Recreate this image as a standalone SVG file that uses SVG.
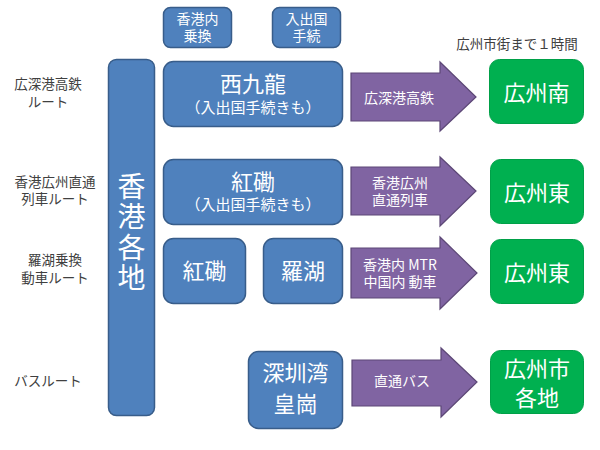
<svg xmlns="http://www.w3.org/2000/svg" width="600" height="450" viewBox="0 0 600 450">
<style>
text{font-family:"Noto Sans CJK JP","Noto Sans",sans-serif;text-anchor:middle;dominant-baseline:central}
.blue{fill:#4F81BD;stroke:#385D8A;stroke-width:1.5}
.green{fill:#00B050;stroke:#00A048;stroke-width:1}
.arrow{fill:#8064A2;stroke:#5C4776;stroke-width:1.2}
.w{fill:#FFFFFF}
.lbl{fill:#404040;font-size:13.5px}
.s14{font-size:14px}
.s15{font-size:15px}
.s22{font-size:22px}
.s28{font-size:28px}
.vert{writing-mode:vertical-rl;letter-spacing:2.5px}
</style>
<rect width="600" height="450" fill="#FFFFFF"/>
<g id="labels">
<text class="lbl" x="48" y="83">広深港高鉄<tspan x="48" dy="18">ルート</tspan></text>
<text class="lbl" x="55" y="181">香港広州直通<tspan x="55" dy="17">列車ルート</tspan></text>
<text class="lbl" x="55" y="259">羅湖乗換<tspan x="55" dy="18">動車ルート</tspan></text>
<text class="lbl" x="48" y="380">バスルート</text>
<text class="lbl" x="517" y="43">広州市街まで１時間</text>
</g>
<g id="n-transfer">
<rect class="blue" x="163.5" y="7.5" width="68" height="40" rx="7"/>
<text class="w s14" x="197.5" y="18">香港内<tspan x="197.5" dy="17">乗換</tspan></text>
</g>
<g id="n-immigration">
<rect class="blue" x="272.5" y="7.5" width="68" height="40" rx="7"/>
<text class="w s14" x="306.5" y="18">入出国<tspan x="306.5" dy="17">手続</tspan></text>
</g>
<g id="n-hongkong">
<rect class="blue" x="108.5" y="59.5" width="46" height="356" rx="8"/>
<text class="w s28 vert" x="131.5" y="233">香港各地</text>
</g>
<g id="n-westkowloon">
<rect class="blue" x="163.5" y="61.5" width="179" height="65" rx="10"/>
<text class="w s22" x="253" y="82">西九龍<tspan class="s15" x="253" dy="24">（入出国手続きも）</tspan></text>
</g>
<g id="n-hunghom1">
<rect class="blue" x="163.5" y="159.5" width="179" height="65" rx="10"/>
<text class="w s22" x="253" y="180">紅磡<tspan class="s15" x="253" dy="23">（入出国手続きも）</tspan></text>
</g>
<g id="n-hunghom2">
<rect class="blue" x="163.5" y="238.5" width="82" height="65" rx="10"/>
<text class="w s22" x="204.5" y="269">紅磡</text>
</g>
<g id="n-lowu">
<rect class="blue" x="263.5" y="238.5" width="79" height="65" rx="10"/>
<text class="w s22" x="303" y="269">羅湖</text>
</g>
<g id="n-shenzhenbay">
<rect class="blue" x="248.5" y="351.5" width="94" height="77" rx="10"/>
<text class="w s22" x="295.5" y="371">深圳湾<tspan x="295.5" dy="31">皇崗</tspan></text>
</g>
<g id="connectors">
<g id="a1">
<polygon class="arrow" points="351,73 440,73 440,62 476,97 440,131 440,121 351,121"/>
<text class="w s14" x="399" y="97">広深港高鉄</text>
</g>
<g id="a2">
<polygon class="arrow" points="351,167 440,167 440,157 476,191 440,226 440,215 351,215"/>
<text class="w s14" x="400" y="182">香港広州<tspan x="400" dy="17">直通列車</tspan></text>
</g>
<g id="a3">
<polygon class="arrow" points="351,248 440,248 440,237 477,273 440,309 440,298 351,298"/>
<text class="w s14" x="400" y="264">香港内 MTR<tspan x="400" dy="17">中国内 動車</tspan></text>
</g>
<g id="a4">
<polygon class="arrow" points="352,360 441,360 441,348 477,382 441,417 441,406 352,406"/>
<text class="w s14" x="402" y="380">直通バス</text>
</g>
</g>
<g id="n-gzsouth">
<rect class="green" x="489.5" y="59.5" width="94" height="64" rx="10"/>
<text class="w s22" x="536.5" y="91">広州南</text>
</g>
<g id="n-gzeast1">
<rect class="green" x="490.5" y="159.5" width="93" height="64" rx="10"/>
<text class="w s22" x="537" y="191">広州東</text>
</g>
<g id="n-gzeast2">
<rect class="green" x="490.5" y="239.5" width="93" height="64" rx="10"/>
<text class="w s22" x="537" y="271">広州東</text>
</g>
<g id="n-gzcity">
<rect class="green" x="490.5" y="350.5" width="93" height="63" rx="10"/>
<text class="w s22" x="537" y="367">広州市<tspan x="537" dy="29">各地</tspan></text>
</g>
</svg>
